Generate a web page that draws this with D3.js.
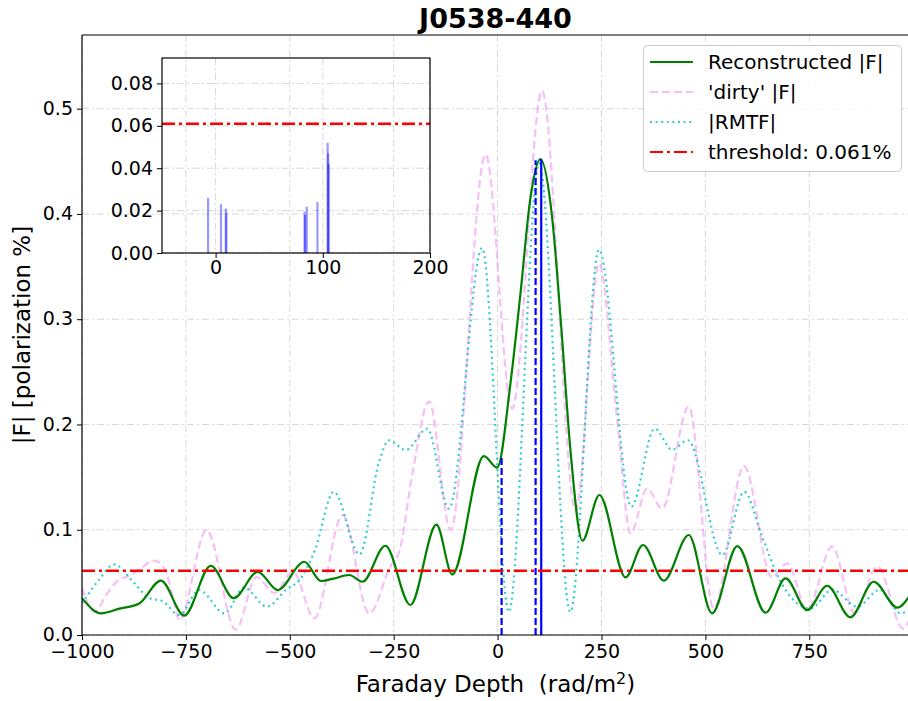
<!DOCTYPE html>
<html><head><meta charset="utf-8">
<script src="https://cdn.jsdelivr.net/npm/d3@7"></script>
<style>
body{margin:0;background:#fff;}
svg text{font-family:"DejaVu Sans",sans-serif;fill:#000;}
</style></head>
<body>
<svg id="c" width="908" height="701"></svg>
<script>
// ---------------- DATA ----------------
const title = "J0538-440";
const xTicks = [-1000, -750, -500, -250, 0, 250, 500, 750];
const yTicks = [0.0, 0.1, 0.2, 0.3, 0.4, 0.5];
const insetXTicks = [0, 100, 200];
const insetYTicks = [0.00, 0.02, 0.04, 0.06, 0.08];
const threshold = 0.061;

// Reconstructed |F|  (phi, value)
const reconPhi = [-1000,-954,-910,-862,-810,-754,-690,-635,-577,-529,-465,-425,-393,-357,-325,-270,-210,-147,-109,-33,-1,31,55,79,103,132,152,176,204,245,308,350,400,460,516,577,645,693,745,793,849,905,962,990];
const reconVal = [0.035,0.0206,0.025,0.030,0.0516,0.0184,0.0658,0.035,0.060,0.0427,0.0696,0.0513,0.0538,0.057,0.0506,0.0848,0.0285,0.1048,0.0574,0.170,0.159,0.239,0.324,0.415,0.452,0.394,0.299,0.1725,0.0896,0.133,0.0548,0.0855,0.0516,0.095,0.0206,0.0845,0.0212,0.0538,0.0237,0.0468,0.0168,0.0506,0.026,0.0364];

// 'dirty' |F|
const dirtyPhi = [-1000,-970,-940,-910,-886,-860,-826,-800,-780,-766,-700,-630,-580,-537,-492,-441,-373,-309,-257,-236,-205,-165,-113,-29,35,107,188,244,288,320,360,396,460,520,593,660,697,745,805,859,914,976,990];
const dirtyVal = [0.045,0.022,0.039,0.053,0.056,0.063,0.0706,0.062,0.033,0.014,0.0997,0.005,0.055,0.040,0.060,0.016,0.114,0.0206,0.066,0.080,0.153,0.222,0.0997,0.4565,0.215,0.517,0.118,0.353,0.204,0.0965,0.139,0.120,0.217,0.025,0.1605,0.055,0.068,0.024,0.084,0.021,0.065,0.006,0.014];

// |RMTF|
const rmtfPhi = [-1000,-960,-922,-880,-838,-806,-766,-718,-657,-610,-555,-509,-477,-440,-394,-332,-285,-261,-221,-169,-117,-37,27,100,175,244,322,378,420,458,541,593,637,681,753,805,865,920,970,990];
const rmtfVal = [0.030,0.052,0.067,0.052,0.035,0.032,0.019,0.0427,0.0206,0.045,0.027,0.043,0.052,0.080,0.136,0.0766,0.165,0.185,0.1757,0.196,0.12,0.3676,0.022,0.448,0.022,0.366,0.122,0.196,0.176,0.185,0.076,0.136,0.093,0.0506,0.025,0.043,0.027,0.043,0.0206,0.024];

// components marked in main panel
const markPhi = [9.7, 91.5, 105];
const markVal = [0.170, 0.451, 0.452];
const markStyle = ["dashed", "dashed", "solid"];

// inset: clean components
const compPhi = [-7, 5, 9.5, 10, 83, 83.5, 85, 95, 104.5, 105, 105.5];
const compAmp = [0.026, 0.023, 0.021, 0.019, 0.0195, 0.018, 0.0218, 0.024, 0.052, 0.047, 0.042];

const legendLabels = ["Reconstructed |F|", "'dirty' |F|", "|RMTF|", "threshold: 0.061%"];

// ---------------- DRAW ----------------
const svg = d3.select("#c");
const M = {l: 82, r: 909, t: 35, b: 635};

const x = d3.scaleLinear().domain([-1000, 990]).range([M.l, M.r]);
const y = d3.scaleLinear().domain([0, 0.57]).range([M.b, M.t]);

const defs = svg.append("defs");
defs.append("clipPath").attr("id","clipMain").append("rect")
  .attr("x", M.l).attr("y", M.t).attr("width", M.r - M.l).attr("height", M.b - M.t);

const gridCol = "#d8d8d8", gridDash = "7,3,2,3";
const g = svg.append("g");
g.selectAll(".gx").data(xTicks).enter().append("line")
  .attr("x1", d => x(d)).attr("x2", d => x(d)).attr("y1", M.t).attr("y2", M.b)
  .attr("stroke", gridCol).attr("stroke-width", 1).attr("stroke-dasharray", gridDash);
g.selectAll(".gy").data(yTicks).enter().append("line")
  .attr("x1", M.l).attr("x2", M.r).attr("y1", d => y(d)).attr("y2", d => y(d))
  .attr("stroke", gridCol).attr("stroke-width", 1).attr("stroke-dasharray", gridDash);

const plot = svg.append("g").attr("clip-path", "url(#clipMain)");

function mkLine(xs, vs, sx, sy) {
  return d3.line().x(d => sx(d[0])).y(d => sy(d[1])).curve(d3.curveMonotoneX)(xs.map((p, i) => [p, vs[i]]));
}

plot.append("path").attr("d", mkLine(dirtyPhi, dirtyVal, x, y))
  .attr("fill", "none").attr("stroke", "violet").attr("stroke-opacity", 0.5)
  .attr("stroke-width", 2.2).attr("stroke-dasharray", "8,4");
plot.append("path").attr("d", mkLine(rmtfPhi, rmtfVal, x, y))
  .attr("fill", "none").attr("stroke", "#00bfbf").attr("stroke-opacity", 0.8)
  .attr("stroke-width", 2.2).attr("stroke-dasharray", "2,3.6");
plot.append("path").attr("d", mkLine(reconPhi, reconVal, x, y))
  .attr("fill", "none").attr("stroke", "green").attr("stroke-width", 2.2);
plot.selectAll(".mk").data(markPhi).enter().append("line")
  .attr("x1", d => x(d)).attr("x2", d => x(d))
  .attr("y1", y(0)).attr("y2", (d, i) => y(markVal[i]))
  .attr("stroke", "blue").attr("stroke-width", 2.2)
  .attr("stroke-dasharray", (d, i) => markStyle[i] === "dashed" ? "7,3" : null);
plot.append("line").attr("x1", M.l).attr("x2", M.r).attr("y1", y(threshold)).attr("y2", y(threshold))
  .attr("stroke", "red").attr("stroke-width", 2.4).attr("stroke-dasharray", "13,4,3,4");

// axes
const xAxis = d3.axisBottom(x).tickValues(xTicks).tickSize(5).tickPadding(5)
  .tickFormat(d => d3.format("d")(d).replace("-", "\u2212"));
const gx = svg.append("g").attr("transform", `translate(0,${M.b})`).call(xAxis);
const yAxis = d3.axisLeft(y).tickValues(yTicks).tickSize(5).tickPadding(4).tickFormat(d3.format(".1f"));
const gy = svg.append("g").attr("transform", `translate(${M.l},0)`).call(yAxis);
[gx, gy].forEach(a => {
  a.select(".domain").remove();
  a.selectAll("text").style("font-size", "19px").style("font-family", "DejaVu Sans");
  a.selectAll("line").attr("stroke", "#000").attr("stroke-width", 1);
});
gy.selectAll("text").attr("dy", "0.3em");
// spines
svg.append("line").attr("x1", M.l).attr("x2", M.l).attr("y1", M.t).attr("y2", M.b).attr("stroke", "#000").attr("stroke-width", 1.2);
svg.append("line").attr("x1", M.l).attr("x2", M.r).attr("y1", M.b).attr("y2", M.b).attr("stroke", "#000").attr("stroke-width", 1.2);
svg.append("line").attr("x1", M.l).attr("x2", M.r).attr("y1", M.t).attr("y2", M.t).attr("stroke", "#000").attr("stroke-width", 1.2);

// labels
svg.append("text").attr("x", (M.l + M.r) / 2).attr("y", 28).attr("text-anchor", "middle")
  .style("font-size", "27px").style("font-weight", "bold").text(title);
const xl = svg.append("text").attr("x", (M.l + M.r) / 2).attr("y", 692).attr("text-anchor", "middle")
  .style("font-size", "23px").style("white-space", "pre");
xl.append("tspan").text("Faraday Depth  (rad/m");
xl.append("tspan").attr("dy", -8).style("font-size", "16px").text("2");
xl.append("tspan").attr("dy", 8).text(")");
svg.append("text").attr("transform", `translate(30,${(M.t + M.b) / 2}) rotate(-90)`)
  .attr("text-anchor", "middle").style("font-size", "23px").text("|F| [polarization %]");

// legend
const lg = svg.append("g");
lg.append("rect").attr("x", 643.5).attr("y", 45.5).attr("width", 258).attr("height", 126).attr("rx", 4)
  .attr("fill", "#fff").attr("fill-opacity", 0.85).attr("stroke", "#cccccc");
const lgStyles = [
  {c: "green", o: 1, d: null},
  {c: "violet", o: 0.5, d: "8,4"},
  {c: "#00bfbf", o: 0.8, d: "2,3.6"},
  {c: "red", o: 1, d: "13,4,3,4"}
];
legendLabels.forEach((t, i) => {
  const yy = 62 + i * 30;
  lg.append("line").attr("x1", 650).attr("x2", 693).attr("y1", yy).attr("y2", yy)
    .attr("stroke", lgStyles[i].c).attr("stroke-opacity", lgStyles[i].o).attr("stroke-width", 2.2)
    .attr("stroke-dasharray", lgStyles[i].d);
  lg.append("text").attr("x", 708).attr("y", yy + 7).style("font-size", "20px").text(t);
});

// inset
const I = {l: 162, r: 430, t: 58, b: 253};
const ix = d3.scaleLinear().domain([-50, 200]).range([I.l, I.r]);
const iy = d3.scaleLinear().domain([0, 0.092]).range([I.b, I.t]);
const ig = svg.append("g");
ig.selectAll(".igx").data(insetXTicks).enter().append("line")
  .attr("x1", d => ix(d)).attr("x2", d => ix(d)).attr("y1", I.t).attr("y2", I.b)
  .attr("stroke", gridCol).attr("stroke-width", 1).attr("stroke-dasharray", gridDash);
ig.selectAll(".igy").data(insetYTicks).enter().append("line")
  .attr("x1", I.l).attr("x2", I.r).attr("y1", d => iy(d)).attr("y2", d => iy(d))
  .attr("stroke", gridCol).attr("stroke-width", 1).attr("stroke-dasharray", gridDash);
ig.selectAll(".comp").data(compPhi).enter().append("line")
  .attr("x1", d => ix(d)).attr("x2", d => ix(d)).attr("y1", iy(0)).attr("y2", (d, i) => iy(compAmp[i]))
  .attr("stroke", "blue").attr("stroke-opacity", 0.4).attr("stroke-width", 2.2);
ig.append("line").attr("x1", I.l).attr("x2", I.r).attr("y1", iy(threshold)).attr("y2", iy(threshold))
  .attr("stroke", "red").attr("stroke-width", 2.4).attr("stroke-dasharray", "13,4,3,4");
ig.append("rect").attr("x", I.l).attr("y", I.t).attr("width", I.r - I.l).attr("height", I.b - I.t)
  .attr("fill", "none").attr("stroke", "#000").attr("stroke-width", 1.2);
const ixa = svg.append("g").attr("transform", `translate(0,${I.b})`)
  .call(d3.axisBottom(ix).tickValues(insetXTicks).tickSize(5).tickPadding(3).tickFormat(d3.format("d")));
const iya = svg.append("g").attr("transform", `translate(${I.l},0)`)
  .call(d3.axisLeft(iy).tickValues(insetYTicks).tickSize(5).tickPadding(4).tickFormat(d3.format(".2f")));
[ixa, iya].forEach(a => {
  a.select(".domain").remove();
  a.selectAll("text").style("font-size", "19px").style("font-family", "DejaVu Sans");
  a.selectAll("line").attr("stroke", "#000");
});
</script>
</body></html>
